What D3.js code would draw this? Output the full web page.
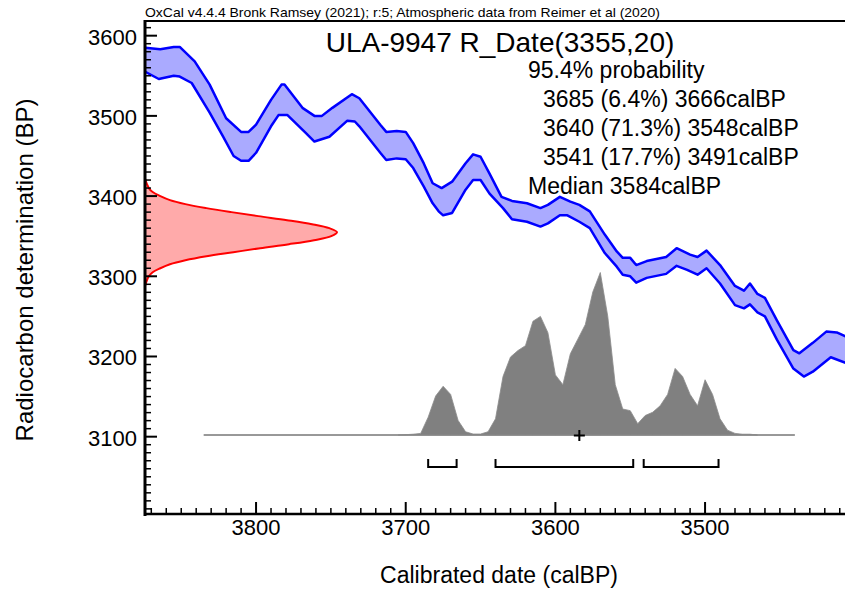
<!DOCTYPE html>
<html><head><meta charset="utf-8">
<script src="https://cdn.jsdelivr.net/npm/d3@7"></script>
<style>
html,body{margin:0;padding:0;background:#fff;}
svg{display:block;font-family:"Liberation Sans",Arial,Helvetica,sans-serif;}
</style></head><body>
<svg id="chart" width="845" height="592"></svg>
<script>
// ---------- data ----------
const headerText = "OxCal v4.4.4 Bronk Ramsey (2021); r:5; Atmospheric data from Reimer et al (2020)";
const titleText = "ULA-9947 R_Date(3355,20)";
const summaryLines = ["95.4% probability", "3685 (6.4%) 3666calBP", "3640 (71.3%) 3548calBP", "3541 (17.7%) 3491calBP", "Median 3584calBP"];
const summaryIndent = [0, 1, 1, 1, 0];
const xTickValues = [3800, 3700, 3600, 3500];
const yTickValues = [3100, 3200, 3300, 3400, 3500, 3600];
const xTitle = "Calibrated date (calBP)";
const yTitle = "Radiocarbon determination (BP)";

// calibration curve band (upper and lower edges)
const curveUpperYears = [3874,3864,3855,3851,3841,3831,3820,3810,3805,3800,3790,3783,3781,3769,3761,3756,3749,3736,3731,3717,3713,3706,3700,3695,3688,3682,3676,3669,3660,3655,3650,3644,3636,3629,3619,3610,3605,3597,3590,3584,3577,3567,3559,3555,3550,3546,3539,3526,3519,3510,3505,3499,3490,3480,3474,3470,3465,3460,3452,3441,3437,3428,3419,3412,3406];
const curveUpperBP = [3585,3583,3586,3586,3568,3539,3497,3480,3480,3489,3520,3539,3539,3510,3500,3500,3510,3527,3522,3489,3480,3481,3480,3466,3441,3416,3410,3418,3441,3452,3449,3428,3399,3394,3391,3385,3389,3399,3393,3389,3381,3352,3331,3323,3323,3314,3319,3324,3335,3327,3324,3332,3314,3288,3282,3291,3278,3273,3245,3208,3204,3217,3231,3230,3225];
const curveLowerYears = [3874,3865,3855,3851,3843,3831,3822,3815,3810,3805,3800,3790,3785,3779,3767,3761,3751,3739,3734,3731,3717,3713,3706,3700,3695,3688,3682,3678,3675,3669,3660,3655,3650,3644,3635,3629,3619,3610,3605,3597,3592,3584,3577,3567,3559,3555,3550,3546,3539,3526,3519,3512,3505,3499,3490,3480,3474,3470,3465,3460,3452,3441,3434,3428,3416,3406];
const curveLowerBP = [3555,3546,3550,3549,3541,3504,3474,3450,3444,3444,3454,3487,3501,3501,3479,3468,3474,3494,3493,3487,3454,3445,3447,3446,3435,3412,3391,3381,3376,3379,3408,3420,3420,3403,3385,3371,3368,3362,3366,3376,3376,3368,3360,3329,3312,3302,3300,3292,3298,3303,3313,3308,3302,3310,3291,3264,3260,3265,3255,3250,3221,3185,3175,3181,3199,3192];

// posterior (calibrated) probability, relative
const postYears = [3705,3700,3695,3690,3685,3680,3675,3670,3665,3660,3655,3650,3645,3640,3635,3630,3625,3620,3615,3610,3605,3600,3595,3590,3585,3580,3575,3570,3565,3560,3555,3550,3545,3540,3535,3530,3525,3520,3515,3510,3505,3500,3495,3490,3485,3480,3475,3470,3465];
const postProb = [0,0.002,0.005,0.01,0.11,0.24,0.30,0.25,0.09,0.02,0.006,0.006,0.02,0.10,0.36,0.48,0.52,0.55,0.70,0.73,0.63,0.37,0.31,0.50,0.59,0.68,0.88,1.0,0.73,0.31,0.16,0.15,0.07,0.12,0.14,0.18,0.25,0.41,0.36,0.25,0.18,0.34,0.25,0.10,0.03,0.01,0.005,0.005,0];
const postBaseYears = [3835, 3440];

// radiocarbon likelihood, relative
const likeBP = [3422,3415,3410,3405,3400,3395,3390,3385,3380,3375,3370,3365,3360,3355,3350,3345,3340,3335,3330,3325,3320,3315,3310,3305,3300,3295,3288];
const likeProb = [0,0.01,0.02,0.04,0.08,0.13,0.21,0.32,0.45,0.59,0.74,0.87,0.96,1.0,0.97,0.88,0.75,0.60,0.46,0.32,0.21,0.13,0.08,0.04,0.02,0.01,0];

// 95.4% ranges and median
const rangeFrom = [3685, 3640, 3541];
const rangeTo = [3666, 3548, 3491];
const medianYear = 3584;

// ---------- layout ----------
const svg = d3.select("#chart");
const L = 145, R = 845, T = 21, B = 514;
const x = d3.scaleLinear().domain([3874.2, 3406.5]).range([L, R]);
const y = d3.scaleLinear().domain([3003.6, 3618.3]).range([B, T]);
const hy = d3.scaleLinear().domain([0, 1]).range([435, 272.5]);
const lx = d3.scaleLinear().domain([0, 1]).range([L, 337]);

svg.append("defs").append("clipPath").attr("id", "clip")
  .append("rect").attr("x", L).attr("y", T).attr("width", R - L).attr("height", B - T);
const plot = svg.append("g").attr("clip-path", "url(#clip)");

// calibration band
const upper = curveUpperYears.map((yr, i) => [yr, curveUpperBP[i]]);
const lower = curveLowerYears.map((yr, i) => [yr, curveLowerBP[i]]);
const line = d3.line().x(d => x(d[0])).y(d => y(d[1]));
plot.append("path")
  .attr("d", line(upper.concat(lower.slice().reverse())) + "Z")
  .attr("fill", "#aaaaff").attr("stroke", "none");
plot.append("path").attr("d", line(upper)).attr("fill", "none").attr("stroke", "#0000ff").attr("stroke-width", 2.5).attr("stroke-linejoin", "round");
plot.append("path").attr("d", line(lower)).attr("fill", "none").attr("stroke", "#0000ff").attr("stroke-width", 2.5).attr("stroke-linejoin", "round");

// likelihood (red)
const like = likeBP.map((bp, i) => [bp, likeProb[i]]);
plot.append("path")
  .attr("d", d3.area().y(d => y(d[0])).x0(lx(0)).x1(d => lx(d[1])).curve(d3.curveCatmullRom)(like))
  .attr("fill", "#ffaaaa").attr("stroke", "none");
plot.append("path")
  .attr("d", d3.line().y(d => y(d[0])).x(d => lx(d[1])).curve(d3.curveCatmullRom)(like))
  .attr("fill", "none").attr("stroke", "#ff0000").attr("stroke-width", 2);

// posterior histogram
const post = postYears.map((yr, i) => [yr, postProb[i]]);
plot.append("line")
  .attr("x1", x(postBaseYears[0])).attr("x2", x(postBaseYears[1]))
  .attr("y1", hy(0)).attr("y2", hy(0))
  .attr("stroke", "#333").attr("stroke-width", 1);
plot.append("path")
  .attr("d", d3.area().x(d => x(d[0])).y0(hy(0)).y1(d => hy(d[1]))(post))
  .attr("fill", "#808080").attr("stroke", "#8a8a8a").attr("stroke-width", 0.8);

// median cross
const mx = x(medianYear), my = hy(0) + 0.5;
svg.append("path").attr("d", `M${mx - 5.5},${my}H${mx + 5.5}M${mx},${my - 5.5}V${my + 5.5}`)
  .attr("stroke", "#000").attr("stroke-width", 2);

// range brackets
const by = 467, bh = 8;
rangeFrom.forEach((f, i) => {
  const x1 = x(f), x2 = x(rangeTo[i]);
  svg.append("path").attr("d", `M${x1},${by - bh}V${by}H${x2}V${by - bh}`)
    .attr("fill", "none").attr("stroke", "#000").attr("stroke-width", 2);
});

// ---------- axes ----------
const axes = svg.append("g").attr("stroke", "#000");
d3.range(3010, 3611, 10).forEach(v => {
  const major = v % 100 === 0;
  axes.append("line").attr("x1", L).attr("x2", L + (major ? 12 : 6))
    .attr("y1", y(v)).attr("y2", y(v)).attr("stroke-width", major ? 2 : 1.5);
});
d3.range(3410, 3871, 10).forEach(v => {
  const major = v % 100 === 0;
  axes.append("line").attr("y1", B).attr("y2", B - (major ? 12 : 6))
    .attr("x1", x(v)).attr("x2", x(v)).attr("stroke-width", major ? 2 : 1.5);
});
axes.append("line").attr("x1", L).attr("x2", R).attr("y1", T).attr("y2", T).attr("stroke-width", 2);
axes.append("line").attr("x1", L).attr("x2", L).attr("y1", T - 1).attr("y2", B + 2).attr("stroke-width", 3);
axes.append("line").attr("x1", L - 1).attr("x2", R).attr("y1", B).attr("y2", B).attr("stroke-width", 2.5);

// tick labels
svg.append("g").selectAll("text").data(yTickValues).join("text")
  .attr("x", 137).attr("y", d => y(d) + 9).attr("text-anchor", "end")
  .attr("font-size", 22).attr("fill", "#000").text(d => d);
svg.append("g").selectAll("text").data(xTickValues).join("text")
  .attr("x", d => x(d)).attr("y", 535).attr("text-anchor", "middle")
  .attr("font-size", 22).attr("fill", "#000").text(d => d);

// titles
svg.append("text").attr("x", 499).attr("y", 583).attr("text-anchor", "middle")
  .attr("font-size", 23).text(xTitle);
svg.append("text").attr("transform", "translate(33,270) rotate(-90)").attr("text-anchor", "middle")
  .attr("font-size", 24).text(yTitle);
svg.append("text").attr("x", 145).attr("y", 17).attr("font-size", 13)
  .attr("textLength", 515).attr("lengthAdjust", "spacingAndGlyphs").text(headerText);
svg.append("text").attr("x", 500).attr("y", 52).attr("text-anchor", "middle")
  .attr("font-size", 28).text(titleText);
svg.append("g").selectAll("text").data(summaryLines).join("text")
  .attr("x", (d, i) => summaryIndent[i] ? 543 : 528)
  .attr("y", (d, i) => 78 + i * 29)
  .attr("font-size", 23).text(d => d);
</script>
</body></html>
